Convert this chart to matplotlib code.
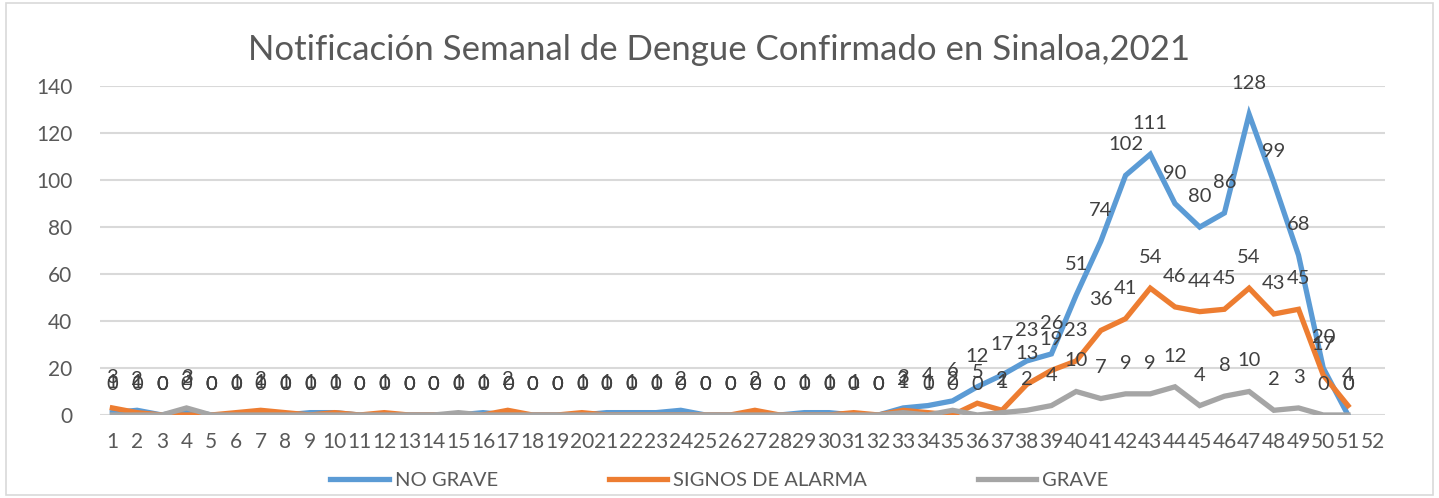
import matplotlib
matplotlib.use("Agg")
import matplotlib.pyplot as plt
from matplotlib.patches import Rectangle

# semanas epidemiologicas
semanas = list(range(1, 53))

no_grave = [1, 2, 0, 2, 0, 0, 1, 0, 1, 1, 0, 0, 0, 0, 0, 1, 0, 0, 0, 0,
            1, 1, 1, 2, 0, 0, 0, 0, 1, 1, 0, 0, 3, 4, 6, 12, 17, 23, 26, 51,
            74, 102, 111, 90, 80, 86, 128, 99, 68, 20, 0]
signos_alarma = [3, 1, 0, 0, 0, 1, 2, 1, 0, 1, 0, 1, 0, 0, 0, 0, 2, 0, 0, 1,
                 0, 0, 0, 0, 0, 0, 2, 0, 0, 0, 1, 0, 2, 1, 0, 5, 2, 13, 19, 23,
                 36, 41, 54, 46, 44, 45, 54, 43, 45, 17, 4]
grave = [0, 0, 0, 3, 0, 0, 0, 0, 0, 0, 0, 0, 0, 0, 1, 0, 0, 0, 0, 0,
         0, 0, 0, 0, 0, 0, 0, 0, 0, 0, 0, 0, 1, 0, 2, 0, 1, 2, 4, 10,
         7, 9, 9, 12, 4, 8, 10, 2, 3, 0, 0]

series = [
    ("NO GRAVE", no_grave, "#5B9BD5"),
    ("SIGNOS DE ALARMA", signos_alarma, "#ED7D31"),
    ("GRAVE", grave, "#A5A5A5"),
]

plt.rcParams['font.family'] = ['Lato', 'DejaVu Sans']

fig = plt.figure(figsize=(14.39, 4.98), dpi=100)
ax = fig.add_axes([0.0695, 0.1667, 0.893, 0.6603])

for nombre, valores, color in series:
    x = semanas[:len(valores)]
    ax.plot(x, valores, color=color, lw=3.8, label=nombre, solid_joinstyle='miter')
    for xi, yi in zip(x, valores):
        ax.annotate(str(yi), (xi, yi), xytext=(0, 22), textcoords='offset points',
                    ha='center', va='center', fontsize=14.5, color='#404040')

ax.set_xlim(0.5, 52.5)
ax.set_ylim(0, 140)
ax.set_yticks(range(0, 141, 20))
ax.set_xticks(semanas)
ax.set_xticklabels([str(s) for s in semanas])
ax.tick_params(axis='both', length=0, labelsize=15, colors='#595959')
ax.tick_params(axis='x', pad=12)
ax.tick_params(axis='y', pad=20)
ax.grid(axis='y', color='#D9D9D9', lw=1.5)
ax.set_axisbelow(True)
for s in ax.spines.values():
    s.set_visible(False)

fig.text(0.5, 0.9, "Notificación Semanal de Dengue Confirmado en Sinaloa,2021",
         ha='center', va='center', fontsize=25, color='#595959')

fig.legend(loc='center', bbox_to_anchor=(0.5, 0.035), ncol=3, frameon=False,
           fontsize=14.5, handlelength=2.9, columnspacing=5.5, handletextpad=0.3,
           labelcolor='#595959')

fig.patches.append(Rectangle((0.004, 0.006), 0.992, 0.988, transform=fig.transFigure,
                             fill=False, edgecolor='#D9D9D9', lw=1.2))

fig.savefig("out.png", dpi=100)
